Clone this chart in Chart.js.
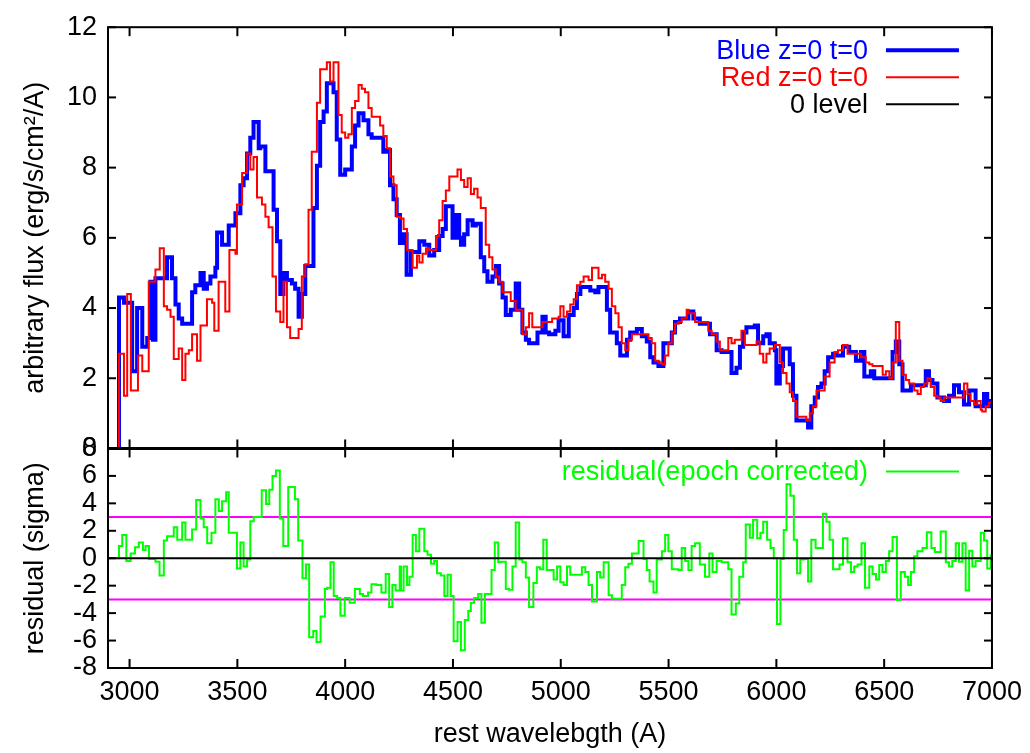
<!DOCTYPE html>
<html>
<head>
<meta charset="utf-8">
<script src="https://cdn.jsdelivr.net/npm/chart.js@4.4.0/dist/chart.umd.min.js"></script>
<style>
  body { margin: 0; background: #fff; }
  #wrap { width: 1030px; height: 753px; }
</style>
</head>
<body>
<div id="wrap"><canvas id="spec" width="1030" height="753"></canvas></div>
<script>
// values (step starts, histeps style)
const blueWave = [2950,2951,2974,3012,3035,3059,3082,3097,3108,3120,3174,3197,3213,3228,3244,3290,3305,3329,3344,3359,3375,3398,3406,3429,3460,3491,3514,3529,3545,3560,3575,3599,3606,3630,3668,3684,3699,3714,3730,3753,3768,3784,3799,3815,3853,3869,3884,3900,3915,3946,3961,3977,4000,4031,4046,4062,4085,4108,4123,4177,4193,4208,4224,4239,4254,4270,4285,4305,4344,4367,4390,4413,4436,4452,4467,4498,4514,4529,4537,4552,4568,4591,4606,4629,4645,4660,4683,4699,4714,4730,4745,4768,4791,4807,4822,4838,4853,4892,4915,4930,4946,4975,4990,5013,5037,5060,5075,5091,5137,5160,5175,5214,5229,5260,5276,5307,5322,5353,5376,5399,5415,5430,5453,5476,5515,5530,5553,5592,5615,5645,5692,5723,5746,5792,5815,5831,5846,5861,5900,5915,5939,5954,5969,5993,6000,6016,6031,6062,6077,6093,6147,6162,6178,6193,6209,6224,6240,6263,6278,6309,6338,6369,6392,6408,6438,6454,6539,6554,6570,6585,6624,6693,6708,6724,6747,6778,6801,6824,6847,6870,6894,6924,6963,6978,6994,7000];
const blueFlux = [0,4.3,4.15,2.2,4.0,2.9,3.15,4.75,3.1,4.85,5.45,4.85,4.1,3.7,3.55,4.45,4.65,5.0,4.55,4.7,4.9,5.15,6.15,5.8,6.35,6.7,7.5,7.7,8.4,8.85,9.3,8.55,8.6,7.9,6.8,5.9,4.4,5.0,4.8,4.7,4.55,3.75,4.4,5.2,6.85,8.05,9.3,9.6,10.4,10.15,8.8,7.8,7.95,8.6,9.2,9.55,9.35,8.95,8.85,8.45,8.5,7.5,7.1,6.65,5.85,6.1,4.95,5.6,5.9,5.8,5.5,5.65,6.05,6.25,6.9,6.0,6.65,6.0,5.8,6.1,6.5,6.35,6.4,5.45,5.05,4.75,4.9,5.2,4.7,4.3,3.8,3.95,4.7,3.95,3.3,3.1,3.0,3.3,3.75,3.3,3.25,3.35,3.65,3.2,3.8,4.0,4.4,4.6,4.5,4.45,4.6,3.95,3.3,3.0,2.65,3.1,3.3,3.4,3.2,3.05,2.6,2.45,2.35,3.0,3.3,3.6,3.7,3.9,3.7,3.55,3.25,2.8,2.75,2.15,2.3,2.9,3.3,3.45,3.5,3.0,3.2,3.25,3.0,2.8,1.85,2.35,2.85,2.4,1.5,0.8,0.6,1.2,1.45,1.75,1.85,2.2,2.6,2.7,2.65,2.9,2.75,2.5,2.75,2.05,2.2,2.0,2.75,3.05,2.4,1.65,1.8,2.2,1.95,1.85,1.45,1.35,1.5,1.8,1.6,1.25,1.65,1.2,1.55,1.2,1.35,1.35];

const redWave = [2950,2951,2974,2989,3006,3039,3059,3089,3120,3140,3159,3174,3190,3205,3228,3244,3259,3275,3290,3313,3329,3359,3383,3393,3413,3444,3463,3491,3498,3522,3545,3560,3575,3591,3614,3630,3645,3663,3679,3699,3714,3730,3745,3784,3799,3815,3830,3845,3869,3884,3915,3930,3946,3969,3984,4000,4015,4031,4046,4062,4077,4092,4108,4123,4162,4177,4193,4208,4224,4239,4254,4271,4287,4313,4333,4344,4359,4375,4390,4421,4436,4452,4467,4483,4521,4537,4552,4568,4583,4598,4614,4629,4652,4668,4683,4699,4714,4730,4768,4791,4822,4838,4853,4868,4915,4960,4990,4998,5013,5029,5044,5060,5075,5091,5106,5129,5145,5175,5191,5206,5222,5237,5253,5268,5283,5299,5314,5330,5407,5422,5438,5453,5469,5484,5499,5515,5530,5546,5561,5584,5592,5623,5684,5700,5723,5738,5777,5792,5807,5838,5854,5908,5923,5939,5954,5969,5993,6016,6031,6047,6062,6077,6093,6139,6155,6170,6186,6224,6247,6270,6286,6309,6330,6392,6415,6431,6446,6493,6508,6524,6539,6554,6570,6585,6601,6616,6639,6655,6670,6685,6701,6716,6732,6747,6762,6778,6870,6886,6901,6917,6932,6948,6955,6971,6986,7000];
const redFlux = [0,2.7,1.5,4.4,1.65,2.65,2.2,4.75,5.1,5.7,4.05,3.95,3.75,2.55,2.85,1.95,2.7,2.8,3.25,2.5,3.5,4.25,4.15,3.35,4.75,3.9,5.65,5.55,6.95,7.85,8.4,7.95,8.3,7.15,6.95,6.6,6.3,4.9,3.9,3.6,4.75,3.45,3.15,3.4,4.9,5.25,6.8,8.45,9.85,10.8,11.0,10.45,11.0,9.5,9.0,8.85,8.95,9.7,9.9,10.35,10.25,10.15,9.7,9.45,9.2,8.9,8.55,7.75,7.5,6.6,6.55,6.25,5.65,5.15,5.5,5.3,5.55,5.7,5.65,6.05,6.5,7.05,7.35,7.75,7.95,7.65,7.45,7.7,7.25,7.4,7.15,6.85,5.8,5.45,5.1,4.9,4.75,4.45,4.2,3.95,3.25,3.45,3.85,3.45,3.6,3.7,3.75,4.05,3.75,3.9,4.1,4.25,4.65,4.75,4.9,4.8,5.15,4.85,4.95,4.75,4.55,4.05,3.85,3.45,3.0,2.8,3.1,3.25,3.15,3.0,2.5,2.45,2.4,2.65,3.0,3.3,3.55,3.6,3.7,3.95,3.85,3.6,3.35,3.25,3.05,2.8,3.15,3.0,3.1,3.35,2.95,3.05,2.7,2.45,2.7,2.85,2.95,2.45,2.15,1.85,1.6,1.35,0.9,0.8,1.0,1.2,1.65,2.05,2.45,2.75,2.8,2.95,2.7,2.6,2.45,2.4,2.35,2.1,2.2,2.0,2.45,3.6,2.5,2.1,1.95,1.85,1.65,1.55,1.75,1.85,2.0,1.75,1.5,1.45,1.35,1.45,1.85,1.55,1.35,1.25,1.35,1.1,1.05,1.2,1.3,1.3];

const residWave = [2950,2951,2966,2985,3005,3025,3043,3062,3074,3090,3120,3139,3159,3174,3205,3221,3244,3259,3290,3309,3329,3344,3360,3380,3398,3414,3429,3448,3460,3498,3514,3529,3545,3560,3576,3613,3633,3648,3663,3679,3697,3713,3736,3767,3782,3802,3818,3833,3852,3867,3886,3906,3917,3932,3947,3963,3978,3998,4021,4045,4068,4083,4106,4122,4145,4168,4188,4204,4219,4234,4253,4259,4271,4287,4298,4313,4328,4344,4367,4382,4398,4413,4426,4444,4460,4475,4490,4503,4521,4537,4555,4571,4583,4598,4617,4632,4648,4679,4694,4710,4722,4745,4760,4776,4791,4807,4822,4838,4853,4873,4889,4904,4919,4935,4967,4983,4998,5013,5029,5044,5098,5114,5129,5145,5168,5183,5199,5222,5237,5283,5299,5314,5330,5361,5384,5399,5412,5430,5445,5469,5484,5499,5515,5546,5561,5577,5592,5607,5623,5645,5669,5689,5704,5723,5746,5777,5792,5812,5828,5846,5858,5877,5892,5911,5926,5939,5957,5973,5988,6003,6019,6034,6047,6065,6081,6096,6111,6127,6147,6162,6182,6216,6232,6247,6263,6293,6309,6330,6346,6361,6377,6395,6411,6431,6446,6462,6477,6492,6508,6523,6539,6559,6577,6596,6611,6624,6639,6654,6678,6698,6719,6735,6762,6786,6801,6816,6832,6847,6863,6878,6894,6909,6924,6948,6963,6978,6994,7000];
const residSigma = [0,0.9,1.7,-0.2,0.35,0.8,1.15,0.6,0.9,-0.05,-0.25,-1.25,1.3,1.6,2.25,1.35,2.6,1.35,2.1,4.25,2.9,2.25,1.1,1.85,4.3,3.45,4.15,4.8,1.85,-0.75,1.15,-0.6,-0.1,2.7,3.0,4.95,3.95,5.0,6.0,6.4,2.9,0.9,5.2,4.3,1.3,-1.45,-0.45,-5.75,-5.3,-6.1,-4.25,-2.25,-2.15,-0.3,-2.75,-2.9,-4.2,-2.9,-3.25,-2.25,-2.6,-2.75,-2.5,-1.9,-1.95,-2.5,-1.15,-3.55,-1.95,-2.35,-0.6,-2.35,-0.6,-1.95,-1.35,1.7,0.5,2.15,0.5,0.25,-0.4,-0.2,-1.1,-1.25,-2.75,-1.2,-2.75,-6.05,-4.65,-6.7,-4.5,-3.85,-3.25,-2.9,-2.6,-4.7,-2.6,-0.85,1.15,-0.3,-0.25,-2.25,-2.3,-0.6,2.6,-0.1,-0.3,-1.4,-3.55,-1.8,-0.65,-0.8,1.35,-0.85,-1.55,-0.6,-1.75,-1.95,-0.6,-1.2,-0.65,-1.0,-1.95,-3.15,-1.0,-1.4,-0.3,-2.7,-2.95,-1.95,-0.65,-0.4,0.35,1.25,-0.05,-0.85,-1.7,-2.5,-0.1,0.5,1.7,0.5,-0.8,-0.85,0.75,-0.2,-0.85,0.9,1.1,-0.45,-1.35,0.35,-1.0,-0.2,-0.3,-0.8,-4.1,-3.3,-1.35,-0.3,2.45,1.5,2.8,1.45,1.85,2.65,1.35,0.75,0.0,-4.8,-0.05,2.05,5.4,4.55,1.35,-1.1,-0.1,-0.05,-1.7,1.35,0.75,3.25,2.65,1.35,-0.8,-0.45,1.45,-0.3,-1.0,-0.6,-0.45,1.1,-2.15,-0.6,-1.15,-1.55,-0.5,-1.0,-0.2,0.5,1.55,-3.05,-1.0,-1.35,-1.95,-1.0,0.15,0.5,0.75,1.9,0.75,0.45,1.95,-0.3,-0.6,-0.2,1.1,-0.25,1.1,-2.35,0.55,-0.6,-0.2,1.85,1.3,-0.75,0.2,0.2];

const waveRange = [2900, 7000];
const sigmaBand = [-3, 3];
const waveTicks = [3000, 3500, 4000, 4500, 5000, 5500, 6000, 6500, 7000];
const fluxTicks = [0, 2, 4, 6, 8, 10, 12];
const residTicks = [-8, -6, -4, -2, 0, 2, 4, 6, 8];

const FONT = "'Liberation Sans', Arial, Helvetica, sans-serif";
Chart.defaults.font.family = FONT;
Chart.defaults.color = "#000";

const pts = (xs, ys) => xs.map((x, i) => ({ x: x, y: ys[i] }));
const flat = (v) => waveRange.map((x) => ({ x: x, y: v }));

// gnuplot-like frame, inward ticks and key
const framePlugin = {
  id: "frame",
  afterDraw(chart) {
    const ctx = chart.ctx;
    const { x, y, y2 } = chart.scales;
    const l = x.left, r = x.right;
    const seg = (x1, y1, x2, y2_) => {
      ctx.beginPath(); ctx.moveTo(x1, y1); ctx.lineTo(x2, y2_); ctx.stroke();
    };
    ctx.save();
    ctx.strokeStyle = "#000";
    ctx.lineWidth = 2;
    [[y.top, y.bottom], [y2.top, y2.bottom]].forEach(([t, b]) => {
      ctx.strokeRect(l, t, r - l, b - t);
      waveTicks.forEach((v) => {
        const px = x.getPixelForValue(v);
        seg(px, t, px, t + 9);
        seg(px, b, px, b - 9);
      });
    });
    ctx.lineWidth = 3;
    seg(l, y.bottom, r, y.bottom);
    ctx.lineWidth = 2;
    fluxTicks.forEach((v) => {
      const py = y.getPixelForValue(v);
      seg(l, py, l + 8, py); seg(r, py, r - 8, py);
    });
    residTicks.forEach((v) => {
      const py = y2.getPixelForValue(v);
      seg(l, py, l + 8, py); seg(r, py, r - 8, py);
    });

    const keys = [
      { text: "Blue z=0 t=0", color: "#0000ff", w: 4, y: y.top + 23 },
      { text: "Red z=0 t=0", color: "#ff0000", w: 2, y: y.top + 50 },
      { text: "0 level", color: "#000000", w: 2, y: y.top + 77 },
      { text: "residual(epoch corrected)", color: "#00ff00", w: 2, y: y2.top + 23 }
    ];
    ctx.font = "27px " + FONT;
    ctx.textAlign = "right";
    ctx.textBaseline = "middle";
    keys.forEach((k) => {
      ctx.fillStyle = k.color;
      ctx.fillText(k.text, r - 124, k.y + 1);
      ctx.strokeStyle = k.color;
      ctx.lineWidth = k.w;
      seg(r - 106, k.y, r - 33, k.y);
    });
    ctx.restore();
  }
};

const tickFont = { size: 27 };

new Chart(document.getElementById("spec"), {
  type: "line",
  data: {
    datasets: [
      { label: "Blue z=0 t=0", data: pts(blueWave, blueFlux), yAxisID: "y", borderColor: "#0000ff", borderWidth: 4, stepped: true, order: 3 },
      { label: "Red z=0 t=0", data: pts(redWave, redFlux), yAxisID: "y", borderColor: "#ff0000", borderWidth: 2, stepped: true, order: 2 },
      { label: "0 level", data: flat(0), yAxisID: "y", borderColor: "#000", borderWidth: 2, order: 1 },
      { label: "residual(epoch corrected)", data: pts(residWave, residSigma), yAxisID: "y2", borderColor: "#00ff00", borderWidth: 2, stepped: true, order: 2 },
      { label: "+3", data: flat(sigmaBand[1]), yAxisID: "y2", borderColor: "#ff00ff", borderWidth: 2, order: 3 },
      { label: "-3", data: flat(sigmaBand[0]), yAxisID: "y2", borderColor: "#ff00ff", borderWidth: 2, order: 3 },
      { label: "zero", data: flat(0), yAxisID: "y2", borderColor: "#000", borderWidth: 2, order: 1 }
    ]
  },
  options: {
    responsive: false,
    animation: false,
    events: [],
    layout: { padding: { top: 20, right: 37, left: 0, bottom: 0 } },
    elements: { point: { radius: 0 }, line: { tension: 0, fill: false } },
    plugins: { legend: { display: false }, tooltip: { enabled: false } },
    scales: {
      x: {
        type: "linear", position: "bottom", min: waveRange[0], max: waveRange[1],
        grid: { display: false, drawTicks: false }, border: { display: false },
        afterFit: (s) => { s.height = 85; },
        afterBuildTicks: (s) => { s.ticks = waveTicks.map((v) => ({ value: v })); },
        ticks: { callback: (v) => String(v), padding: 8, maxRotation: 0, autoSkip: false, font: tickFont, color: "#000" },
        title: { display: true, text: "rest wavelebgth (A)", font: tickFont, color: "#000", padding: { top: 0, bottom: 2 } }
      },
      // residual panel is listed first: left-side stacked boxes are laid out in reverse order
      y2: {
        type: "linear", position: "left", stack: "panels", stackWeight: 222, min: -8, max: 8,
        grid: { display: false, drawTicks: false }, border: { display: false },
        afterFit: (s) => { s.width = 108; },
        afterBuildTicks: (s) => { s.ticks = residTicks.map((v) => ({ value: v })); },
        ticks: { callback: (v) => String(v), padding: 11, autoSkip: false, font: tickFont, color: "#000" },
        title: { display: true, text: "residual (sigma)", font: tickFont, color: "#000", padding: { top: 19, bottom: 0 } }
      },
      y: {
        type: "linear", position: "left", stack: "panels", stackWeight: 426, min: 0, max: 12,
        grid: { display: false, drawTicks: false }, border: { display: false },
        afterFit: (s) => { s.width = 108; },
        afterBuildTicks: (s) => { s.ticks = fluxTicks.map((v) => ({ value: v })); },
        ticks: { callback: (v) => String(v), padding: 11, autoSkip: false, font: tickFont, color: "#000" },
        title: { display: true, text: "arbitrary flux (erg/s/cm²/A)", font: tickFont, color: "#000", padding: { top: 19, bottom: 0 } }
      }
    }
  },
  plugins: [framePlugin]
});
</script>
</body>
</html>
